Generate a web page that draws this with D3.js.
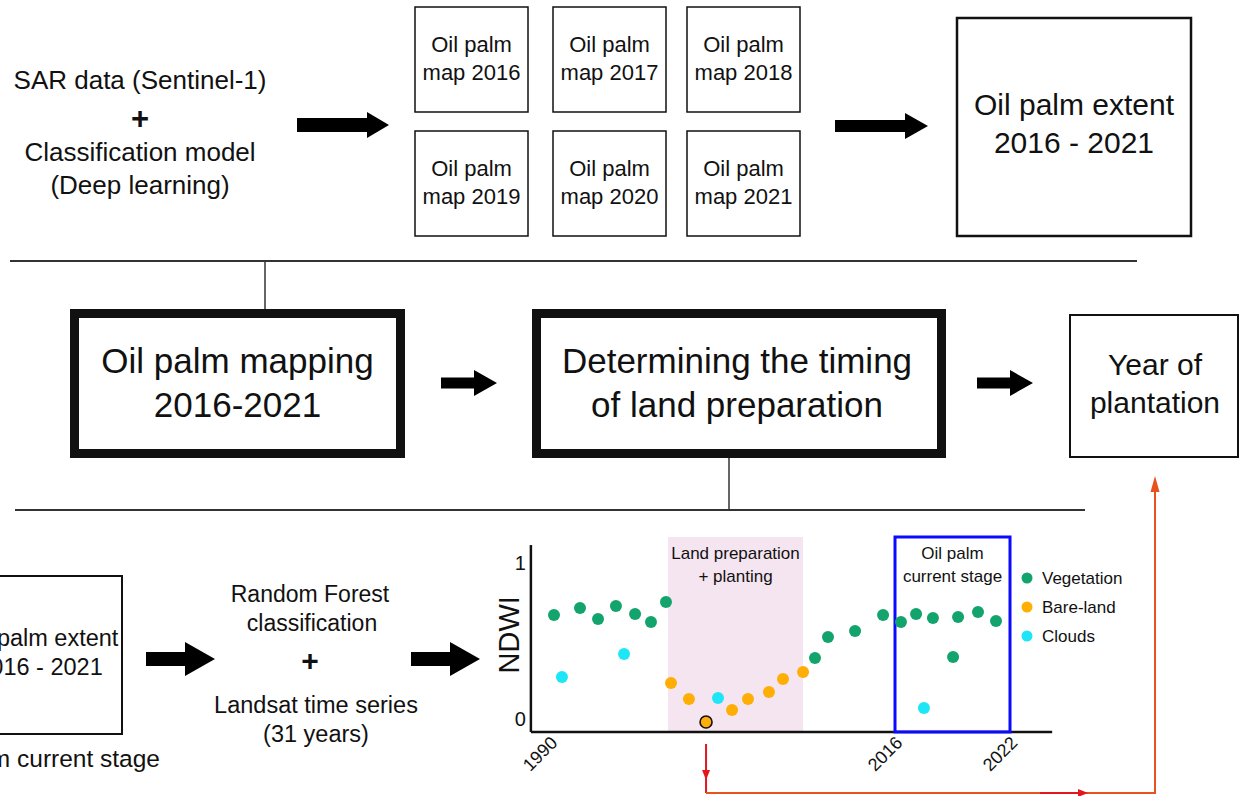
<!DOCTYPE html>
<html><head><meta charset="utf-8">
<script src="https://cdn.jsdelivr.net/npm/d3@7"></script>
<style>
body{margin:0;background:#fff}
svg{display:block}
text{font-family:"Liberation Sans",Arial,Helvetica,sans-serif;fill:#111}
</style>
</head><body><svg id="c" width="1240" height="796"></svg>
<script>
// ---------- data ----------
const years = [1990.3,1990.9,1992.26,1993.62,1994.97,1995.58,1996.41,1997.61,1998.74,1999.12,2000.47,2001.76,2002.66,2003.72,2004.92,2006.5,2007.56,2009.07,2009.97,2010.95,2012.99,2015.1,2016.31,2017.1,2017.51,2017.98,2019.03,2019.29,2020.33,2021.27];
const ndwi = [0.667,0.269,0.712,0.641,0.724,0.417,0.673,0.622,0.75,0.231,0.128,-0.019,0.135,0.058,0.128,0.173,0.256,0.301,0.391,0.526,0.564,0.667,0.622,0.673,0.071,0.647,0.397,0.654,0.686,0.628];
const classes = ["Vegetation","Clouds","Vegetation","Vegetation","Vegetation","Clouds","Vegetation","Vegetation","Vegetation","Bare-land","Bare-land","Bare-land","Clouds","Bare-land","Bare-land","Bare-land","Bare-land","Bare-land","Vegetation","Vegetation","Vegetation","Vegetation","Vegetation","Vegetation","Clouds","Vegetation","Vegetation","Vegetation","Vegetation","Vegetation"];
const legendLabels = ["Vegetation","Bare-land","Clouds"];
const xTickLabels = [1990, 2016, 2022];
const yTickLabels = [0, 1];
const landPrepPeriod = [1998.89, 2009.07];
const currentStagePeriod = [2016, 2022];
const detectedYear = 2001.76;
const mapYears = [2016, 2017, 2018, 2019, 2020, 2021];

// ---------- helpers ----------
const svg = d3.select("#c");
const FONT = '"Liberation Sans",Arial,Helvetica,sans-serif';
function txt(x, y, s, size, opts = {}) {
  return svg.append("text").attr("x", x).attr("y", y)
    .attr("text-anchor", opts.anchor || "middle")
    .attr("dominant-baseline", "central")
    .attr("font-size", size)
    .attr("font-weight", opts.weight || "normal")
    .text(s);
}
function arrow(x0, x1, cy, shaft, head, headL) {
  const hb = x1 - headL;
  const p = d3.path();
  p.moveTo(x0, cy - shaft / 2); p.lineTo(hb, cy - shaft / 2); p.lineTo(hb, cy - head / 2);
  p.lineTo(x1, cy); p.lineTo(hb, cy + head / 2); p.lineTo(hb, cy + shaft / 2);
  p.lineTo(x0, cy + shaft / 2); p.closePath();
  svg.append("path").attr("d", p.toString()).attr("fill", "#000");
}
function box(x, y, w, h, sw) {
  svg.append("rect").attr("x", x).attr("y", y).attr("width", w).attr("height", h)
    .attr("fill", "none").attr("stroke", "#111").attr("stroke-width", sw);
}
function line(x1, y1, x2, y2, sw, col) {
  svg.append("line").attr("x1", x1).attr("y1", y1).attr("x2", x2).attr("y2", y2)
    .attr("stroke", col || "#333").attr("stroke-width", sw);
}

// ---------- top section ----------
txt(140, 80, "SAR data (Sentinel-1)", 26);
txt(140, 118, "+", 31, {weight: "bold"});
txt(140, 152, "Classification model", 26);
txt(140, 185, "(Deep learning)", 26);
arrow(297, 389, 125, 14, 26, 22);

const mapX = [415, 553, 687], mapY = [7, 131];
mapYears.forEach((yr, i) => {
  const bx = mapX[i % 3], by = mapY[Math.floor(i / 3)];
  box(bx, by, 113, 105, 1.5);
  txt(bx + 56.5, by + 37, "Oil palm", 22);
  txt(bx + 56.5, by + 65, "map " + yr, 22);
});
arrow(835, 928, 126, 12, 26, 23);
box(957, 18, 234, 218, 2.5);
txt(1074, 104, "Oil palm extent", 30);
txt(1074, 142, d3.min(mapYears) + " - " + d3.max(mapYears), 30);

// ---------- middle section ----------
line(10, 261, 1137, 261, 2);
line(265, 261, 265, 310, 1.5);
box(74.5, 313.5, 326, 140, 9);
txt(237.5, 360, "Oil palm mapping", 35);
txt(237.5, 404, "2016-2021", 35);
arrow(441, 497, 383, 11, 26, 23);
box(536.5, 313.5, 405, 140, 9);
txt(737, 360, "Determining the timing", 35);
txt(737, 404, "of land preparation", 35);
arrow(977, 1033, 383, 11, 26, 23);
box(1070, 315, 168, 142, 2);
txt(1155, 364, "Year of", 30);
txt(1155, 402, "plantation", 30);
line(729, 458, 729, 510, 1.5);
line(15, 510, 1085, 510, 2);

// ---------- bottom section ----------
box(-48, 576, 170, 158, 2);
txt(40, 638, "Oil palm extent", 23.5);
txt(40, 667, "2016 - 2021", 23.5);
txt(160, 758, "Oil palm current stage", 24.5, {anchor: "end"});
arrow(146, 215, 659, 14, 34, 30);
txt(310, 594, "Random Forest", 23);
txt(312, 623, "classification", 23);
txt(310, 660, "+", 30, {weight: "bold"});
txt(316, 705, "Landsat time series", 23.5);
txt(316, 734, "(31 years)", 23.5);
arrow(411, 480, 659, 14, 34, 30);

// ---------- scatter chart ----------
const x = d3.scaleLinear().domain([1990, 2016, 2022]).range([550, 895, 1010]);
const y = d3.scaleLinear().domain([0, 1]).range([719, 563]);
const color = d3.scaleOrdinal().domain(legendLabels).range(["#12a46c", "#ffae06", "#1ee6f6"]);
const xExt = [1988.56, 2024.2], yExt = [-0.083, 1.115];

const g = svg.append("g");
// shaded land-prep period
g.append("rect").attr("x", x(landPrepPeriod[0])).attr("y", 537)
  .attr("width", x(landPrepPeriod[1]) - x(landPrepPeriod[0])).attr("height", y(yExt[0]) - 537)
  .attr("fill", "#f5e5f0");
g.append("text").attr("x", (x(landPrepPeriod[0]) + x(landPrepPeriod[1])) / 2).attr("y", 553)
  .attr("text-anchor", "middle").attr("dominant-baseline", "central").attr("font-size", 17).text("Land preparation");
g.append("text").attr("x", (x(landPrepPeriod[0]) + x(landPrepPeriod[1])) / 2).attr("y", 576)
  .attr("text-anchor", "middle").attr("dominant-baseline", "central").attr("font-size", 17).text("+ planting");

// axes
const xAxis = d3.axisBottom(x).tickValues(xTickLabels).tickSize(0).tickFormat(d3.format("d"));
const xa = g.append("g").attr("transform", `translate(0,${y(yExt[0])})`).call(xAxis);
xa.select(".domain").remove();
xa.selectAll("text").attr("font-size", 18).attr("font-family", FONT).attr("fill", "#111")
  .attr("text-anchor", "end").attr("dy", null).attr("y", 0)
  .attr("transform", "translate(8,12) rotate(-45)");
const ya = g.append("g").attr("transform", `translate(${x(xExt[0])},0)`)
  .call(d3.axisLeft(y).tickValues(yTickLabels).tickSize(0).tickPadding(5).tickFormat(d3.format("d")));
ya.select(".domain").remove();
ya.selectAll("text").attr("font-size", 20).attr("font-family", FONT).attr("fill", "#111");
g.append("line").attr("x1", x(xExt[0])).attr("x2", x(xExt[1])).attr("y1", y(yExt[0])).attr("y2", y(yExt[0]))
  .attr("stroke", "#111").attr("stroke-width", 2.5);
g.append("line").attr("x1", x(xExt[0])).attr("x2", x(xExt[0])).attr("y1", y(yExt[0])).attr("y2", y(yExt[1]))
  .attr("stroke", "#111").attr("stroke-width", 2.5);
g.append("text").attr("transform", `translate(509,${y(0.54)}) rotate(-90)`)
  .attr("text-anchor", "middle").attr("dominant-baseline", "central").attr("font-size", 29).text("NDWI");

// current stage box
g.append("rect").attr("x", x(currentStagePeriod[0])).attr("y", 537)
  .attr("width", x(currentStagePeriod[1]) - x(currentStagePeriod[0])).attr("height", y(yExt[0]) - 537)
  .attr("fill", "none").attr("stroke", "#0a0aff").attr("stroke-width", 3);
g.append("text").attr("x", (x(currentStagePeriod[0]) + x(currentStagePeriod[1])) / 2).attr("y", 553)
  .attr("text-anchor", "middle").attr("dominant-baseline", "central").attr("font-size", 17).text("Oil palm");
g.append("text").attr("x", (x(currentStagePeriod[0]) + x(currentStagePeriod[1])) / 2).attr("y", 576)
  .attr("text-anchor", "middle").attr("dominant-baseline", "central").attr("font-size", 17).text("current stage");

// points
const pts = years.map((yr, i) => ({yr, v: ndwi[i], c: classes[i]}));
g.selectAll("circle.pt").data(pts).join("circle").attr("class", "pt")
  .attr("cx", d => x(d.yr)).attr("cy", d => y(d.v)).attr("r", 6)
  .attr("fill", d => color(d.c))
  .attr("stroke", d => d.yr === detectedYear ? "#111" : "none")
  .attr("stroke-width", 1.6);

// legend
legendLabels.forEach((l, i) => {
  const ly = 578 + i * 29;
  g.append("circle").attr("cx", 1027).attr("cy", ly).attr("r", 5.5).attr("fill", color(l));
  g.append("text").attr("x", 1042).attr("y", ly).attr("dominant-baseline", "central").attr("font-size", 17).text(l);
});

// red arrows to "Year of plantation"
const dx = x(detectedYear);
line(dx, 744, dx, 793, 2, "#e3161c");
svg.append("path").attr("d", `M${dx-4},770 L${dx+4},770 L${dx},780 Z`).attr("fill", "#e3161c");
svg.append("path").attr("d", `M${dx},793 L1155,793 L1155,482`).attr("fill", "none").attr("stroke", "#e8521c").attr("stroke-width", 2);
line(1040, 793, 1080, 793, 2, "#e3161c");
svg.append("path").attr("d", `M1078,789 L1088,793 L1078,797 Z`).attr("fill", "#e3161c");
svg.append("path").attr("d", `M1150.5,492 L1159.5,492 L1155,476 Z`).attr("fill", "#e8521c");
</script>
</body></html>
